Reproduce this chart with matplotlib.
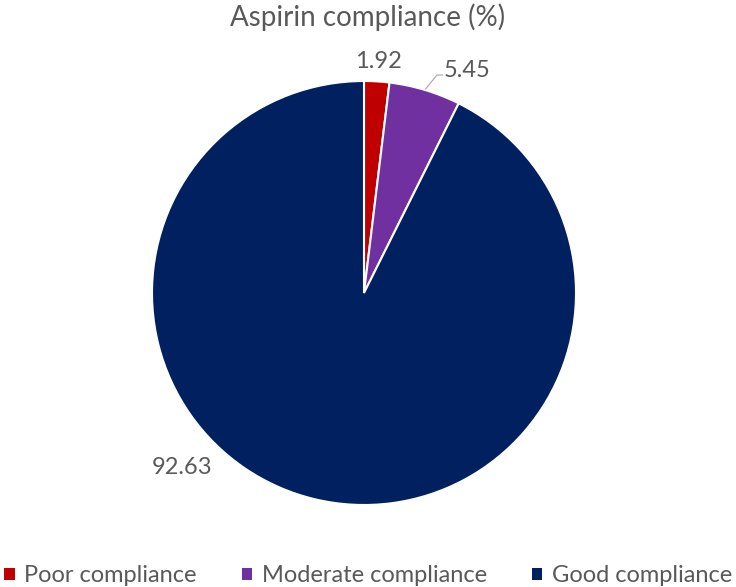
import numpy as np
import matplotlib.pyplot as plt
from matplotlib.patches import Patch

plt.rcParams['font.family'] = ['Lato', 'DejaVu Sans']

categories = ['Poor compliance', 'Moderate compliance', 'Good compliance']
values = [1.92, 5.45, 92.63]
labels = ['1.92', '5.45', '92.63']
colors = ['#C00000', '#7030A0', '#002060']
text_color = '#595959'

fig = plt.figure(figsize=(7.36, 5.87), dpi=100)
ax = fig.add_axes([152 / 736, 82 / 587, 424 / 736, 424 / 587])

wedges, _ = ax.pie(values, colors=colors, startangle=90, counterclock=False,
                   radius=1.0, wedgeprops=dict(edgecolor='white', linewidth=1.5))
ax.set_xlim(-1, 1)
ax.set_ylim(-1, 1)
ax.set_aspect('equal')

# label positions (Excel "best fit" placement)
ax.text(0.066, 1.09, labels[0], ha='center', va='center', fontsize=17, color=text_color)
ax.text(0.485, 1.05, labels[1], ha='center', va='center', fontsize=17, color=text_color)
ax.plot([0.29, 0.344, 0.37], [0.962, 1.028, 1.028], color='#A6A6A6', lw=0.8, clip_on=False)
ax.text(-0.858, -0.821, labels[2], ha='center', va='center', fontsize=17, color=text_color)

fig.text(0.5, 1 - 17 / 587, 'Aspirin compliance (%)', ha='center', va='center',
         fontsize=20, color=text_color)

handles = [Patch(facecolor=c, edgecolor='none') for c in colors]
fig.legend(handles, categories, loc='center', bbox_to_anchor=(0.5, 1 - 576 / 587),
           ncol=3, frameon=False, fontsize=17, labelcolor=text_color,
           handlelength=0.45, handleheight=0.45, handletextpad=0.4, columnspacing=1.9,
           borderaxespad=0, borderpad=0)

fig.savefig('out.png', dpi=100)
